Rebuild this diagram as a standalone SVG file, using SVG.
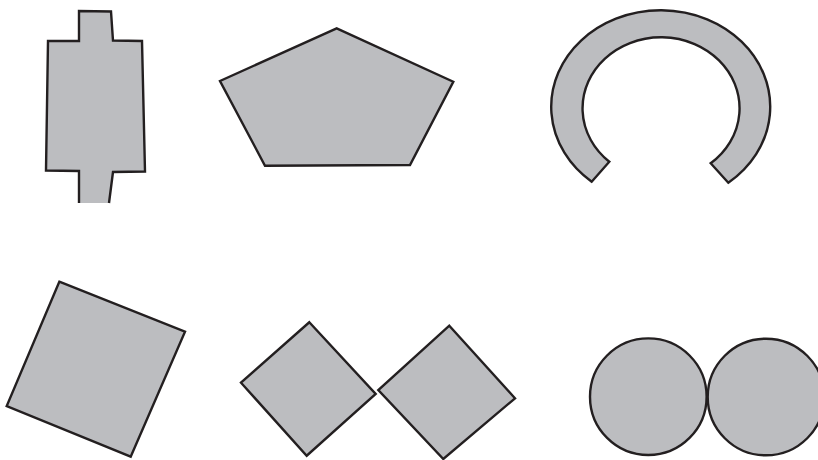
<svg xmlns="http://www.w3.org/2000/svg" width="818" height="460" viewBox="0 0 818 460">
<style>
.s{fill:#bcbdc0;stroke:#231f20;stroke-width:2.4;stroke-linejoin:miter}
.f{fill:#bcbdc0;stroke:none}
.o{fill:none;stroke:#231f20;stroke-width:2.4}
</style>
<rect width="818" height="460" fill="#ffffff"/>
<g id="cross">
<path class="f" d="M79,11 L111,11.5 L113,40.5 L142,41 L145,171.5 L113,172 L109,203 L79,203 L79,171 L46,170.5 L48,41 L79,41 Z"/>
<path class="o" d="M109,203 L113,172 L145,171.5 L142,41 L113,40.5 L111,11.5 L79,11 L79,41 L48,41 L46,170.5 L79,171 L79,203"/>
</g>
<g id="pentagon">
<polygon class="s" points="336.7,28.3 453.3,81.7 410,165 265,165.7 220,81"/>
</g>
<g id="ring">
<path class="s" d="M591.7,181.7 A109.5,96.5 0 1 1 728.3,182.7 L710.7,163.3 A78.5,71 0 1 0 609.3,161.7 Z"/>
</g>
<g id="square">
<polygon class="s" points="59.3,281.7 185,331.7 130.7,456.7 6.7,406"/>
</g>
<g id="diamond-left">
<polygon class="s" points="309.3,322.3 375.7,394 306.7,455.7 241,382.7"/>
</g>
<g id="diamond-right">
<polygon class="s" points="449.3,325.7 515,398.3 443.3,459 378.3,390"/>
</g>
<g id="circle-left">
<circle class="s" cx="648.3" cy="396.7" r="58.3"/>
</g>
<g id="circle-right">
<circle class="s" cx="766" cy="397" r="58.3"/>
</g>
<g id="connectors"></g>
</svg>
